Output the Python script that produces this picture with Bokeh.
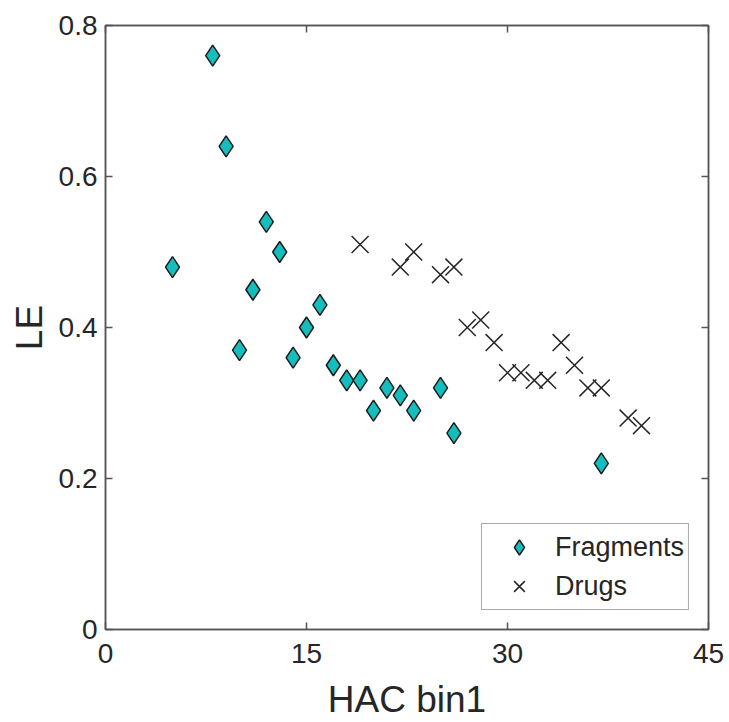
from bokeh.plotting import figure
from bokeh.models import LinearAxis, FixedTicker, Range1d, Legend, LegendItem
from bokeh.embed import file_html
from bokeh.resources import INLINE

# Data
frag_x = [5, 8, 9, 10, 11, 12, 13, 14, 15, 16, 17, 18, 19, 20, 21, 22, 23, 25, 26, 37]
frag_y = [0.48, 0.76, 0.64, 0.37, 0.45, 0.54, 0.50, 0.36, 0.40, 0.43, 0.35, 0.33, 0.33,
          0.29, 0.32, 0.31, 0.29, 0.32, 0.26, 0.22]
drug_x = [19, 22, 23, 25, 26, 27, 28, 29, 30, 31, 32, 33, 34, 35, 36, 37, 39, 40]
drug_y = [0.51, 0.48, 0.50, 0.47, 0.48, 0.40, 0.41, 0.38, 0.34, 0.34, 0.33, 0.33,
          0.38, 0.35, 0.32, 0.32, 0.28, 0.27]
x_ticks = [0, 15, 30, 45]
y_ticks = [0, 0.2, 0.4, 0.6, 0.8]
x_label = "HAC bin1"
y_label = "LE"
series_names = ["Fragments", "Drugs"]

FONT = "Liberation Sans"
AX_COL = "#555555"
TXT_COL = "#262626"

p = figure(width=729, height=722, output_backend="svg", toolbar_location=None,
           x_range=Range1d(0, 45), y_range=Range1d(0, 0.8),
           min_border_left=105, min_border_right=21, min_border_top=25, min_border_bottom=93,
           x_axis_label=x_label, y_axis_label=y_label)
p.grid.visible = False
p.outline_line_color = AX_COL
p.outline_line_width = 1.5
p.background_fill_color = "white"
p.border_fill_color = "white"

def style_axis(ax, ticks, show_labels=True):
    ax.ticker = FixedTicker(ticks=ticks)
    ax.axis_line_color = AX_COL
    ax.axis_line_width = 1.5
    ax.major_tick_line_color = AX_COL
    ax.major_tick_line_width = 1.5
    ax.major_tick_in = 7
    ax.major_tick_out = 0
    ax.minor_tick_line_color = None
    ax.major_label_text_font = FONT
    ax.major_label_text_color = TXT_COL
    ax.axis_label_text_font = FONT
    ax.axis_label_text_font_style = "normal"
    ax.axis_label_text_color = TXT_COL
    ax.axis_label_text_font_size = "37px"
    ax.major_label_text_font_size = "28px"
    if not show_labels:
        ax.major_label_overrides = {t: "" for t in ticks}
        ax.major_label_standoff = 0

style_axis(p.xaxis[0], x_ticks)
style_axis(p.yaxis[0], y_ticks)
p.xaxis[0].major_label_standoff = 14
p.xaxis[0].axis_label_standoff = 13
p.yaxis[0].major_label_standoff = 8
p.yaxis[0].axis_label_standoff = 6

top = LinearAxis()
style_axis(top, x_ticks, show_labels=False)
p.add_layout(top, "above")
right = LinearAxis()
style_axis(right, y_ticks, show_labels=False)
p.add_layout(right, "right")

r1 = p.scatter(frag_x, frag_y, marker="diamond", size=21, fill_color="#14BEBE",
               line_color="#1a1a1a", line_width=1.5)
r2 = p.scatter(drug_x, drug_y, marker="x", size=24, line_color="#262626", line_width=1.5)

legend = Legend(items=[LegendItem(label=series_names[0], renderers=[r1]),
                       LegendItem(label=series_names[1], renderers=[r2])],
                location="bottom_right")
legend.label_text_font = FONT
legend.label_text_font_size = "27px"
legend.label_text_color = TXT_COL
legend.border_line_color = AX_COL
legend.border_line_width = 1.5
legend.margin = 19
legend.padding = 4
legend.spacing = 1
legend.glyph_width = 66
legend.glyph_height = 38
legend.label_standoff = 3
legend.background_fill_alpha = 1.0
p.add_layout(legend)

open("out.html", "w").write(file_html(p, INLINE))
